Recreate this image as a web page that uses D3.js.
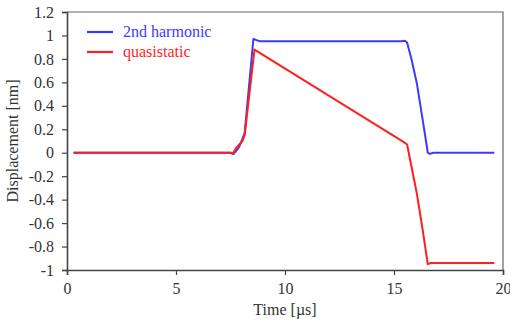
<!DOCTYPE html>
<html lang="en">
<head>
  <meta charset="UTF-8">
  <title>Displacement vs time</title>
  <style>
    body { margin: 0; background: #fff; }
    text { font-family: "Liberation Serif", "Times New Roman", serif; fill: #333; }
  </style>
</head>
<body>
  <div id="chart"></div>

  <script src="https://d3js.org/d3.v7.min.js"></script>
  <script>
    // time in µs, displacement in nm
    var harmonicTime = [0.3, 7.5, 7.65, 7.9, 8.05, 8.15, 8.55, 8.7, 8.85, 15.35, 15.5, 15.6, 15.8, 16.05, 16.3, 16.55, 16.65, 16.8, 19.6];
    var harmonicDisp = [0, 0, -0.01, 0.05, 0.12, 0.17, 0.97, 0.96, 0.95, 0.95, 0.955, 0.94, 0.8, 0.59, 0.3, 0, -0.01, 0, 0];

    var quasiTime = [0.3, 7.5, 7.6, 7.8, 8.05, 8.15, 8.6, 15.45, 15.6, 15.75, 16.05, 16.3, 16.55, 16.7, 19.6];
    var quasiDisp = [0, 0, -0.01, 0.05, 0.1, 0.15, 0.88, 0.09, 0.07, -0.07, -0.35, -0.64, -0.95, -0.94, -0.94];

    var xTicks = [0, 5, 10, 15, 20];
    var yTicks = [-1, -0.8, -0.6, -0.4, -0.2, 0, 0.2, 0.4, 0.6, 0.8, 1, 1.2];

    var series = [
      { name: "2nd harmonic", color: "#3b3bff", t: harmonicTime, v: harmonicDisp },
      { name: "quasistatic", color: "#ff1f1f", t: quasiTime, v: quasiDisp }
    ];

    var margin = {top: 12, right: 7, bottom: 51, left: 67},
      width = 510 - margin.left - margin.right,
      height = 321 - margin.top - margin.bottom;

    var svg = d3.select("#chart")
      .append("svg")
      .attr("width", 510)
      .attr("height", 321)
      .append("g")
      .attr("transform", "translate(" + margin.left + "," + margin.top + ")");

    var x = d3.scaleLinear().domain([0, 20]).range([0, width]);
    var y = d3.scaleLinear().domain([-1, 1.2]).range([height, 0]);

    // box: top and right
    svg.append("path")
      .attr("d", "M0,0H" + width + "V" + height)
      .attr("fill", "none")
      .attr("stroke", "#666")
      .attr("stroke-width", 1.2);

    // axes
    var xAxis = svg.append("g")
      .attr("transform", "translate(0," + height + ")")
      .call(d3.axisBottom(x).tickValues(xTicks).tickSize(5).tickPadding(8).tickFormat(d3.format("d")));
    var yAxis = svg.append("g")
      .call(d3.axisLeft(y).tickValues(yTicks).tickSize(5).tickPadding(8)
        .tickFormat(function(d) { return d3.format("~g")(d).replace("−", "-"); }));

    [xAxis, yAxis].forEach(function(a) {
      a.select(".domain").attr("stroke", "#444").attr("stroke-width", 1.6);
      a.selectAll(".tick line").attr("stroke", "#444").attr("stroke-width", 1.2);
      a.selectAll(".tick text").style("font-size", "16px").attr("fill", "#333");
    });

    // axis titles
    svg.append("text")
      .attr("text-anchor", "middle")
      .attr("x", width / 2)
      .attr("y", height + 45)
      .style("font-size", "16px")
      .text("Time [µs]");

    svg.append("text")
      .attr("text-anchor", "middle")
      .attr("transform", "rotate(-90)")
      .attr("x", -height / 2)
      .attr("y", -margin.left + 18)
      .style("font-size", "16px")
      .text("Displacement [nm]");

    // lines
    var line = d3.line()
      .x(function(d) { return x(d[0]); })
      .y(function(d) { return y(d[1]); });

    series.forEach(function(s) {
      svg.append("path")
        .datum(d3.zip(s.t, s.v))
        .attr("fill", "none")
        .attr("stroke", s.color)
        .attr("stroke-width", 2)
        .attr("stroke-linejoin", "round")
        .attr("d", line);
    });

    // legend
    var legend = svg.append("g").attr("transform", "translate(20,20)");
    series.forEach(function(s, i) {
      var g = legend.append("g").attr("transform", "translate(0," + (i * 20) + ")");
      g.append("line")
        .attr("x1", 0).attr("x2", 26)
        .attr("stroke", s.color)
        .attr("stroke-width", 2.2);
      g.append("text")
        .attr("x", 36)
        .attr("y", 5)
        .style("font-size", "16px")
        .style("fill", s.color)
        .text(s.name);
    });
  </script>
</body>
</html>
